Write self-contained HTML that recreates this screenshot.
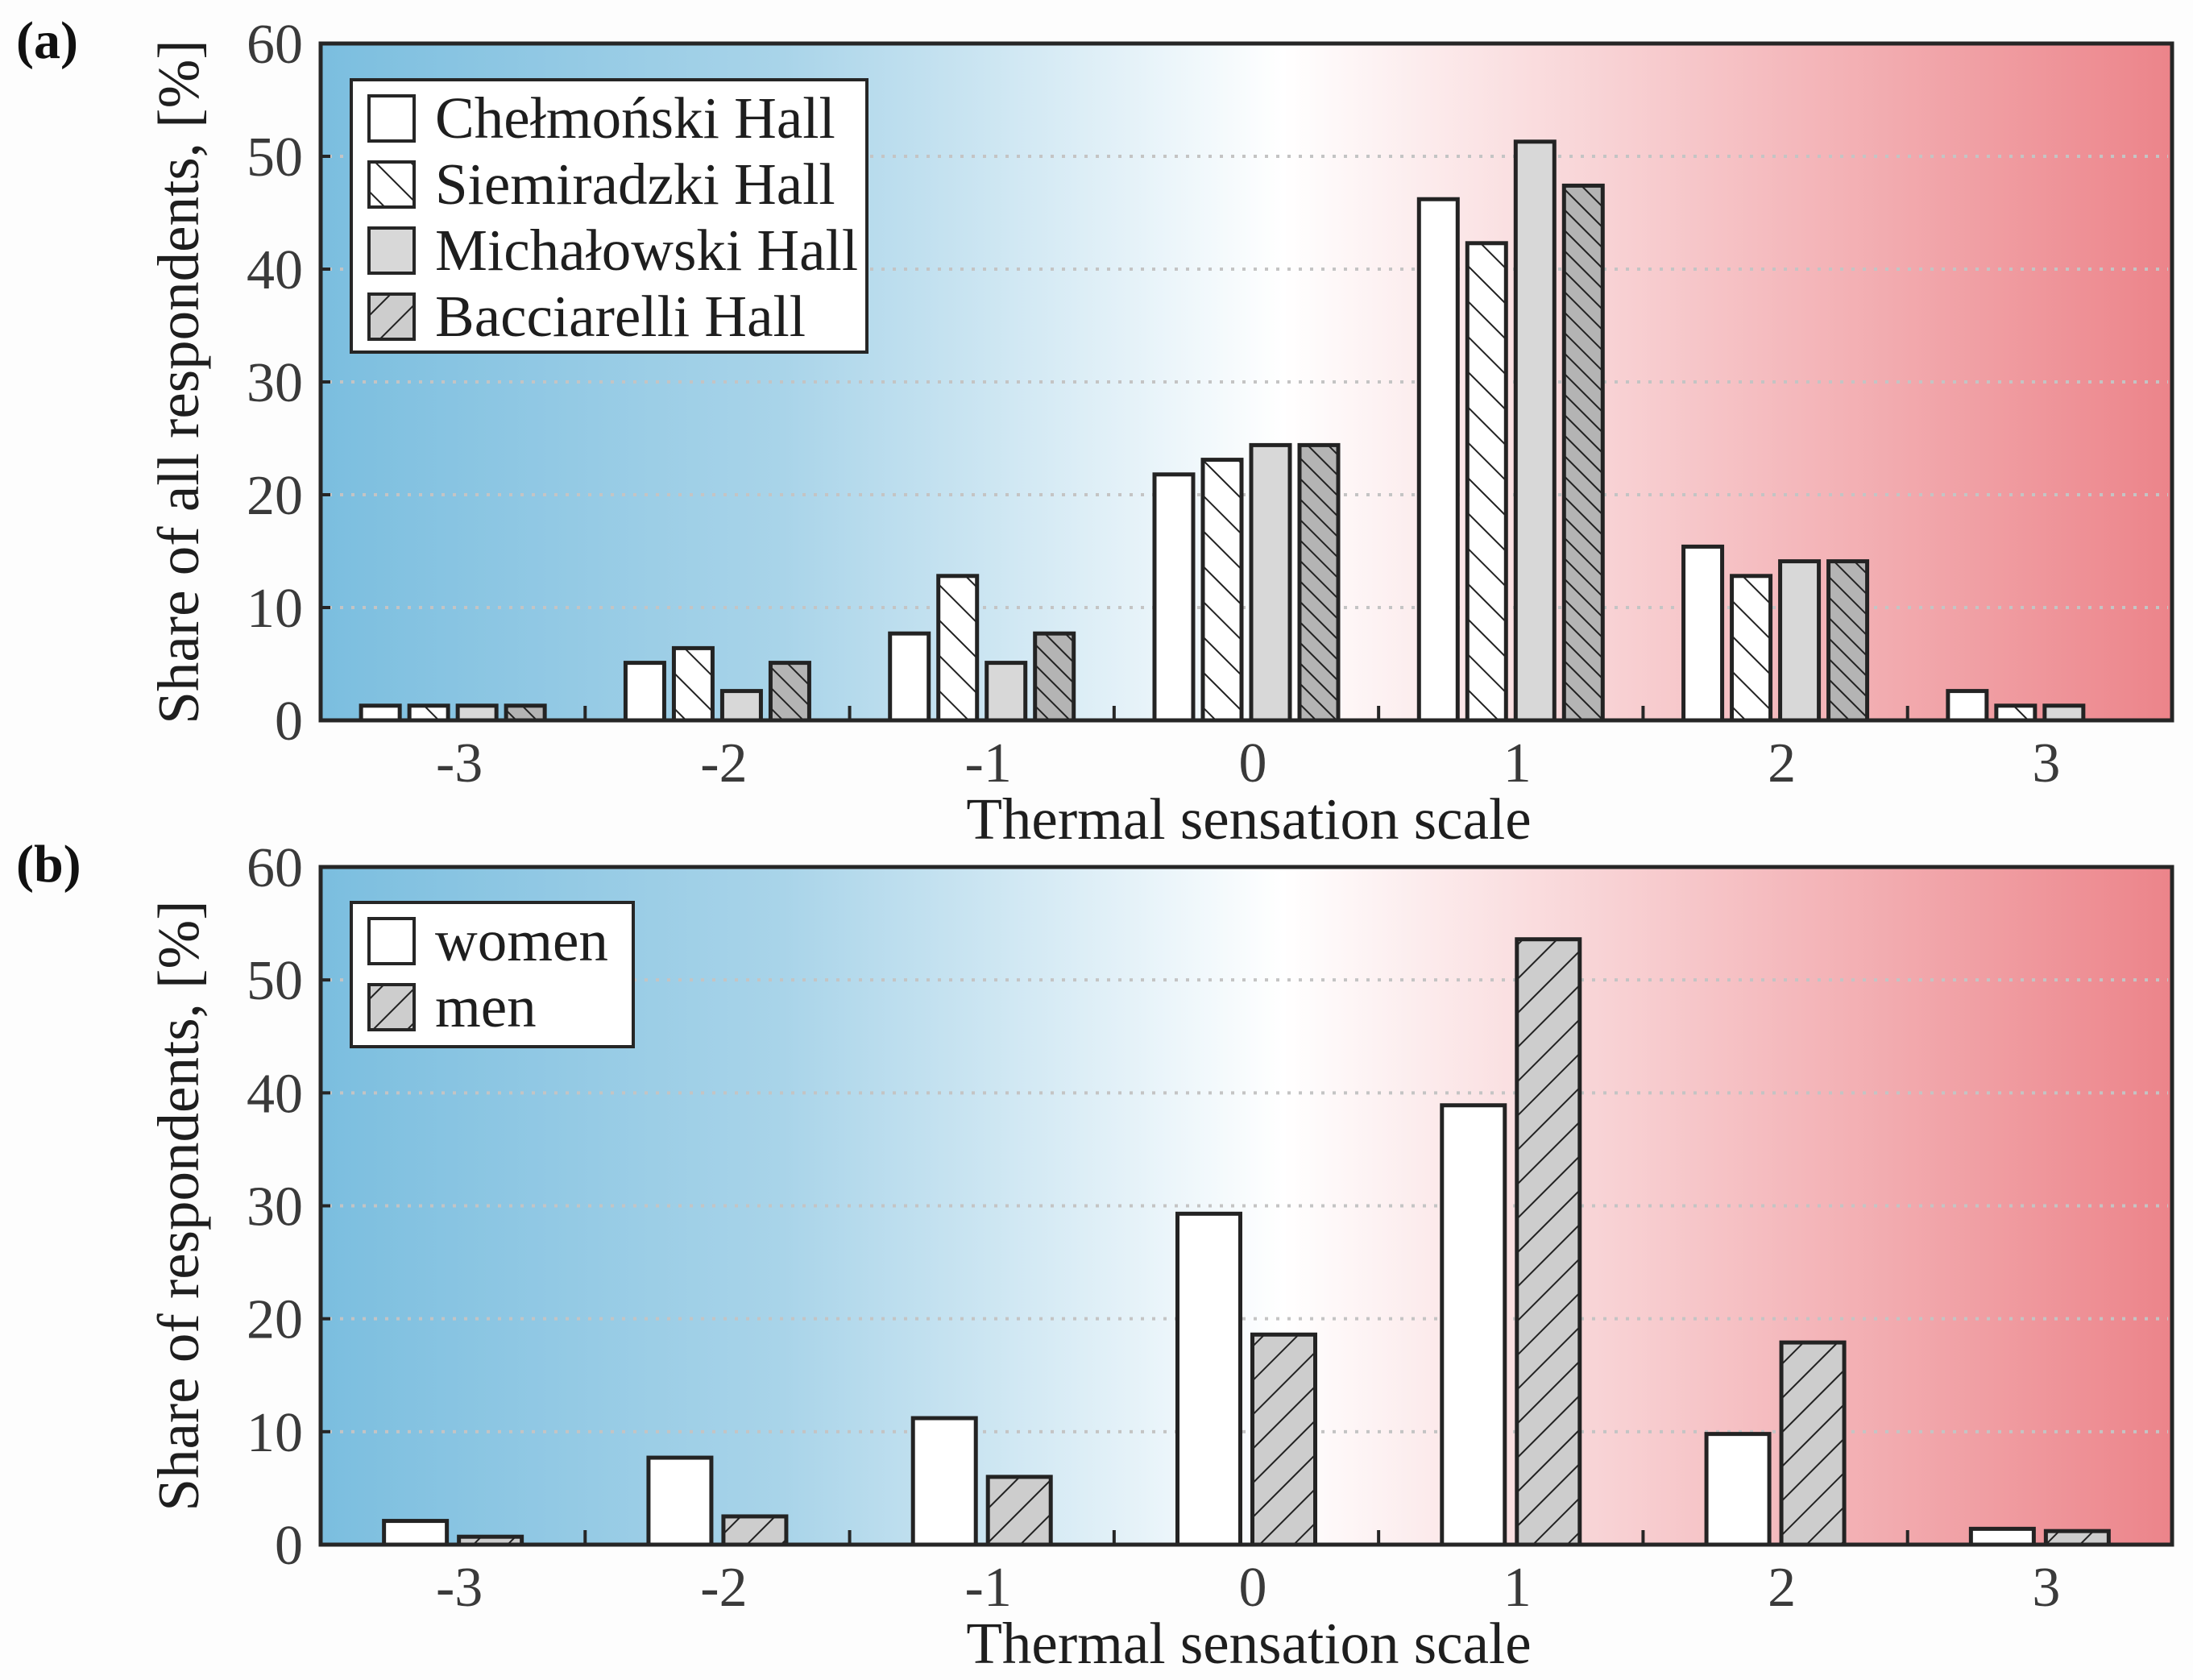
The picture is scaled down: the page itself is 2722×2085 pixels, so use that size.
<!DOCTYPE html>
<html><head><meta charset="utf-8"><style>
html,body{margin:0;padding:0;background:#fdfdfd;}
svg{display:block;font-family:"Liberation Serif",serif;}
</style></head><body>
<svg id="fig" width="2722" height="2085" viewBox="0 0 2722 2085" xmlns="http://www.w3.org/2000/svg">
<defs>
<linearGradient id="bg" x1="0" y1="0" x2="1" y2="0">
<stop offset="0" stop-color="#7bbedf"/>
<stop offset="0.25" stop-color="#a9d4e9"/>
<stop offset="0.52" stop-color="#ffffff"/>
<stop offset="0.75" stop-color="#f6c4c7"/>
<stop offset="1" stop-color="#ec848a"/>
</linearGradient>
<pattern id="hatchBack" patternUnits="userSpaceOnUse" width="31" height="31" patternTransform="rotate(-45)">
<rect width="31" height="31" fill="#ffffff"/><line x1="0" y1="0" x2="0" y2="31" stroke="#222" stroke-width="4"/></pattern>
<pattern id="hatchBackGray" patternUnits="userSpaceOnUse" width="18" height="18" patternTransform="rotate(-45)">
<rect width="18" height="18" fill="#b4b4b4"/><line x1="0" y1="0" x2="0" y2="18" stroke="#222" stroke-width="4"/></pattern>
<pattern id="hatchFwdGray" patternUnits="userSpaceOnUse" width="30" height="30" patternTransform="rotate(45)">
<rect width="30" height="30" fill="#cdcdcd"/><line x1="0" y1="0" x2="0" y2="30" stroke="#222" stroke-width="4"/></pattern>
</defs>
<g id="root"></g>
</svg>
<script>
const categories = ["-3","-2","-1","0","1","2","3"];
const yTicks = [0,10,20,30,40,50,60];
const hallNames = ["Chełmoński Hall","Siemiradzki Hall","Michałowski Hall","Bacciarelli Hall"];
const chelmonski = [1.3,5.1,7.7,21.8,46.2,15.4,2.6];
const siemiradzki = [1.3,6.4,12.8,23.1,42.3,12.8,1.3];
const michalowski = [1.3,2.6,5.1,24.4,51.3,14.1,1.3];
const bacciarelli = [1.3,5.1,7.7,24.4,47.4,14.1,0];
const genderNames = ["women","men"];
const women = [2.1,7.7,11.2,29.3,38.9,9.8,1.4];
const men = [0.7,2.5,6.0,18.6,53.6,17.9,1.2];

const NS="http://www.w3.org/2000/svg";
const root=document.getElementById('root');
function mk(tag,attrs,parent){const e=document.createElementNS(NS,tag);for(const k in attrs)e.setAttribute(k,attrs[k]);(parent||root).appendChild(e);return e;}

function panel(cfg){
  const L=398,R=2696,T=cfg.top,B=cfg.bottom;
  const g=mk('g',{});
  
  
  const xBand=(R-L)/categories.length;
  const yScale=v=>B-(v/60)*(B-T);
  const xCenter=i=>L+(i+0.5)*xBand;
  const bg=mk('rect',{x:L,y:T,width:R-L,height:B-T,fill:'url(#bg)'},g);
  
  
  yTicks.forEach(t=>{
    if(t>0&&t<60){
      const gl=mk('line',{x1:L+10,x2:R-5,y1:yScale(t),y2:yScale(t),stroke:'#c4c4c4','stroke-width':4,'stroke-dasharray':'4 10'},g);
      
      
    }
  });
  const series=cfg.series;
  const n=series.length;
  const step=cfg.step, bw=cfg.bw;
  series.forEach((s,si)=>{
    s.values.forEach((v,i)=>{
      if(v<=0)return;
      const cx=xCenter(i)+(si-(n-1)/2)*step;
      const r=mk('rect',{x:cx-bw/2,y:yScale(v),width:bw,height:B-yScale(v),fill:s.fill,stroke:'#232323','stroke-width':5},g);
      
      
    });
  });
  const fr=mk('rect',{x:L,y:T,width:R-L,height:B-T,fill:'none',stroke:'#262626','stroke-width':5},g);
  
  
  yTicks.forEach(t=>{
    mk('line',{x1:L,x2:L+12,y1:yScale(t),y2:yScale(t),stroke:'#262626','stroke-width':4},g);
    const tx=mk('text',{x:L-22,y:yScale(t)+24,'text-anchor':'end','font-size':70,fill:'#3a3a3a'},g);
    tx.textContent=t;
    
    
  });
  for(let i=1;i<categories.length;i++){
    mk('line',{x1:L+i*xBand,x2:L+i*xBand,y1:B,y2:B-18,stroke:'#262626','stroke-width':4},g);
  }
  categories.forEach((c,i)=>{
    const tx=mk('text',{x:xCenter(i)+8,y:B+76,'text-anchor':'middle','font-size':70,fill:'#3a3a3a'},g);
    tx.textContent=c;
    
    
  });
  const xt=mk('text',{x:1550,y:B+147,'text-anchor':'middle','font-size':73,fill:'#1e1e1e'},g);
  xt.textContent='Thermal sensation scale';
  
  
  const yc=(T+B)/2;
  const yt=mk('text',{x:0,y:0,'text-anchor':'middle','font-size':73,fill:'#1e1e1e',transform:`translate(246,${yc}) rotate(-90)`},g);
  yt.textContent=cfg.ytitle;
  
  
  const pl=mk('text',{x:20,y:cfg.labelY,'font-size':66,'font-weight':'bold',fill:'#111'},g);
  pl.textContent=cfg.label;
  
  
  const lg=mk('g',{},g);
  
  
  mk('rect',{x:436,y:cfg.legY,width:cfg.legW,height:cfg.legH,fill:'#fff',stroke:'#262626','stroke-width':4},lg);
  series.forEach((s,si)=>{
    const cy=cfg.legY+48+si*82;
    const e=mk('g',{},lg);
    
    
    mk('rect',{x:458,y:cy-28,width:56,height:56,fill:s.legFill||s.fill,stroke:'#262626','stroke-width':4},e);
    const tx=mk('text',{x:540,y:cy+24,'font-size':73,fill:'#1e1e1e'},e);
    tx.textContent=s.name;
  });
}

panel({name:'panel-a',top:54,bottom:894,label:'(a)',labelY:72,ytitle:'Share of all respondents, [%]',
  step:60,bw:48,legY:99,legW:640,legH:338,
  series:[
    {key:'chelmonski',name:hallNames[0],values:chelmonski,fill:'#ffffff'},
    {key:'siemiradzki',name:hallNames[1],values:siemiradzki,fill:'url(#hatchBack)'},
    {key:'michalowski',name:hallNames[2],values:michalowski,fill:'#d8d8d8'},
    {key:'bacciarelli',name:hallNames[3],values:bacciarelli,fill:'url(#hatchBackGray)',legFill:'url(#hatchFwdGray)'}
  ]});
panel({name:'panel-b',top:1076,bottom:1917,label:'(b)',labelY:1094,ytitle:'Share of respondents, [%]',
  step:93,bw:78,legY:1120,legW:350,legH:179,
  series:[
    {key:'women',name:genderNames[0],values:women,fill:'#ffffff'},
    {key:'men',name:genderNames[1],values:men,fill:'url(#hatchFwdGray)'}
  ]});
</script>
</body></html>
